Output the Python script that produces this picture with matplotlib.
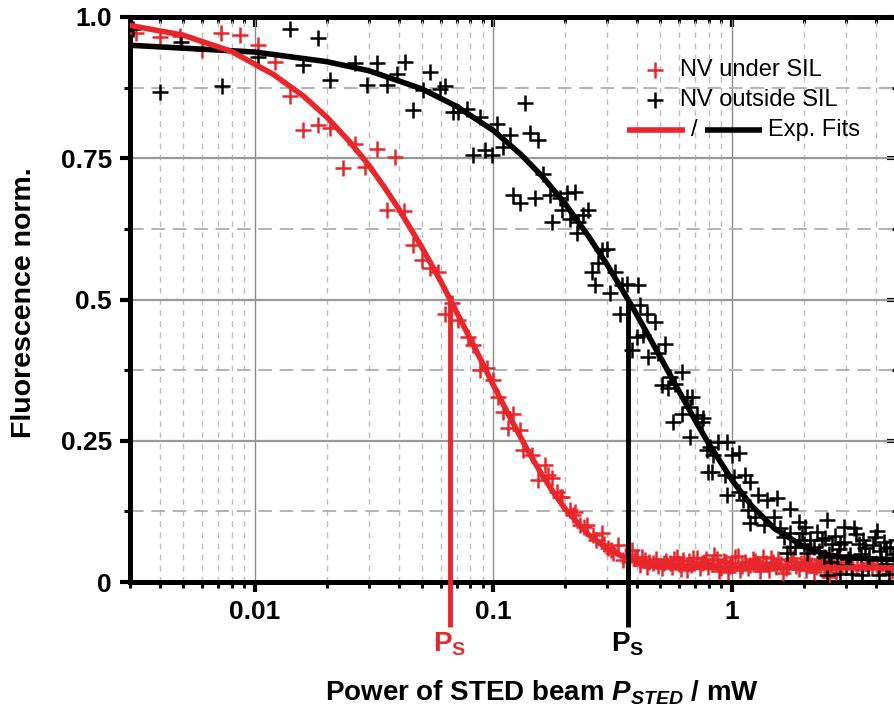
import matplotlib
matplotlib.use('Agg')
import matplotlib.pyplot as plt
from matplotlib.ticker import FixedLocator, NullFormatter, FixedFormatter, LogLocator

plt.rcParams['font.family'] = ['Liberation Sans', 'DejaVu Sans']
plt.rcParams['mathtext.fontset'] = 'custom'
plt.rcParams['mathtext.rm'] = 'Liberation Sans'
plt.rcParams['mathtext.bf'] = 'Liberation Sans:bold'
plt.rcParams['mathtext.it'] = 'Liberation Sans:italic'
try:
    plt.rcParams['mathtext.bfit'] = 'Liberation Sans:italic:bold'
except Exception:
    pass

# ---------------- data ----------------
red_x = [0.00319, 0.0040, 0.00485, 0.00598, 0.00725, 0.00865, 0.01032, 0.01213, 0.01402,
         0.01594, 0.01842, 0.02063, 0.02345, 0.02626, 0.02892, 0.03237, 0.03864, 0.03566,
         0.04214, 0.0461, 0.0500, 0.05418, 0.05869, 0.06678, 0.06259, 0.07118, 0.07837,
         0.08225, 0.08777, 0.09364, 0.0998, 0.1047, 0.1099, 0.1211, 0.1153, 0.1292, 0.1334,
         0.1446, 0.1644, 0.1541, 0.1754, 0.1841, 0.1932, 0.2093, 0.2197, 0.2306, 0.2459,
         0.2621, 0.2842, 0.3030, 0.3337, 0.3180, 0.350, 0.3797, 0.3985, 0.4316, 0.4677,
         0.5072, 0.5495, 0.5863, 0.6249, 0.6884, 0.6457, 0.7464, 0.7954,
         0.17, 0.19, 0.215, 0.24, 0.27, 0.29, 0.31,
         0.36, 0.37, 0.39, 0.41, 0.42, 0.44, 0.45, 0.48, 0.49, 0.52, 0.53, 0.56, 0.57,
         0.60, 0.61, 0.66, 0.67, 0.71, 0.73, 0.76, 0.78,
         0.82, 0.86, 0.90, 0.94, 0.98, 1.03, 1.08, 1.13, 1.19, 1.25, 1.31, 1.38, 1.45,
         1.52, 1.60, 1.68, 1.76, 1.85, 1.94, 2.04, 2.14, 2.25, 2.36, 2.48, 2.60, 2.73,
         2.87, 3.01, 3.16, 3.32, 3.49, 3.66, 3.85, 4.04, 4.24, 4.45, 4.68, 4.90,
         0.84, 0.88, 0.92, 0.96, 1.00, 1.06, 1.10, 1.16, 1.22, 1.28, 1.35, 1.42, 1.48,
         1.56, 1.64, 1.72, 1.80, 1.90, 2.00, 2.09, 2.20, 2.30, 2.42, 2.54, 2.66, 2.80]
red_y = [0.971, 0.965, 0.966, 0.941, 0.971, 0.968, 0.950, 0.920, 0.861,
         0.800, 0.808, 0.803, 0.732, 0.776, 0.735, 0.767, 0.752, 0.658,
         0.656, 0.596, 0.570, 0.555, 0.549, 0.493, 0.475, 0.463, 0.434,
         0.419, 0.375, 0.378, 0.357, 0.328, 0.301, 0.298, 0.272, 0.269, 0.2335,
         0.2247, 0.207, 0.180, 0.1834, 0.160, 0.151, 0.127, 0.124, 0.101, 0.101,
         0.083, 0.086, 0.060, 0.065, 0.051, 0.039, 0.057, 0.045, 0.039, 0.033,
         0.024, 0.033, 0.045, 0.039, 0.042, 0.021, 0.033, 0.027,
         0.19, 0.15, 0.118, 0.097, 0.075, 0.068, 0.056,
         0.047, 0.036, 0.042, 0.030, 0.044, 0.027, 0.036, 0.041, 0.029, 0.034, 0.038, 0.026, 0.040,
         0.031, 0.023, 0.037, 0.030, 0.043, 0.025, 0.035, 0.040,
         0.032, 0.041, 0.025, 0.036, 0.029, 0.044, 0.022, 0.035, 0.030, 0.038, 0.019, 0.033, 0.042,
         0.027, 0.031, 0.024, 0.037, 0.028, 0.034, 0.021, 0.030, 0.026, 0.039, 0.023, 0.032, 0.018,
         0.029, 0.035, 0.025, 0.030, 0.022, 0.033, 0.027, 0.024, 0.031, 0.026, 0.020, 0.028,
         0.047, 0.020, 0.038, 0.017, 0.033, 0.046, 0.028, 0.024, 0.041, 0.031, 0.045, 0.021, 0.036,
         0.040, 0.016, 0.029, 0.043, 0.023, 0.036, 0.041, 0.017, 0.034, 0.028, 0.008, 0.036, 0.024]

black_x = [0.0031, 0.00493, 0.0040, 0.00732, 0.01032, 0.01402, 0.01842, 0.01594, 0.02063,
           0.02626, 0.03237, 0.02939, 0.03566, 0.03927, 0.04256, 0.0461, 0.05077, 0.05418,
           0.05966, 0.06259, 0.06784, 0.07118, 0.07717, 0.08777, 0.1031, 0.1173, 0.1355,
           0.1422, 0.1541, 0.08225, 0.0921, 0.09828, 0.1099, 0.1617, 0.1211, 0.1292, 0.1493,
           0.1725, 0.19, 0.2027, 0.2197, 0.1754, 0.1932, 0.2093, 0.2268, 0.2379, 0.2497,
           0.2233, 0.2842, 0.2982, 0.2750, 0.258, 0.2665, 0.3231, 0.3079, 0.3447, 0.3618,
           0.4047, 0.3392, 0.4113, 0.4387, 0.4755, 0.3985, 0.4247, 0.3797, 0.4457, 0.4909,
           0.5237, 0.5495, 0.6153, 0.5072, 0.5406, 0.5768, 0.6457, 0.6776, 0.5674, 0.6153,
           0.6667, 0.7112, 0.6667, 0.7464, 0.7833, 0.7954, 0.7580, 0.8087, 0.8762, 0.950,
           0.8348, 0.997, 1.063, 0.822, 0.9346, 1.013, 1.134, 1.19, 0.950, 1.063, 1.115,
           1.289, 1.398, 1.539, 1.170, 1.249, 1.19, 1.353, 1.490, 1.751, 1.589, 1.641,
           1.751, 1.897, 1.960, 2.023, 1.837, 2.123, 2.265, 2.495, 2.377, 2.618, 2.929,
           3.226, 2.837, 3.385, 3.612, 3.977, 4.31, 4.598, 4.174, 2.057, 2.415, 2.748,
           3.125, 2.495, 2.837, 3.177, 3.498, 4.107, 4.522, 1.751, 1.696,
           2.2, 2.3, 2.45, 2.55, 2.7, 2.8, 2.95, 3.05, 3.3, 3.45, 3.55, 3.75, 3.9, 4.05,
           4.2, 4.4, 4.7, 4.85, 2.0, 1.9, 2.6, 3.0, 3.7, 4.4]
black_y = [0.978, 0.956, 0.867, 0.878, 0.929, 0.979, 0.962, 0.915, 0.888,
           0.918, 0.918, 0.879, 0.879, 0.900, 0.920, 0.835, 0.870, 0.903,
           0.872, 0.877, 0.832, 0.832, 0.838, 0.823, 0.811, 0.791, 0.847,
           0.794, 0.782, 0.755, 0.764, 0.755, 0.770, 0.723, 0.685, 0.670, 0.679,
           0.685, 0.679, 0.688, 0.690, 0.637, 0.658, 0.643, 0.637, 0.649, 0.658,
           0.617, 0.587, 0.590, 0.564, 0.549, 0.525, 0.549, 0.511, 0.525, 0.528,
           0.525, 0.475, 0.490, 0.475, 0.460, 0.434, 0.437, 0.410, 0.399, 0.405,
           0.422, 0.363, 0.372, 0.348, 0.343, 0.351, 0.328, 0.328, 0.284, 0.298,
           0.310, 0.295, 0.257, 0.284, 0.2335, 0.195, 0.290, 0.239, 0.248, 0.248,
           0.2247, 0.2247, 0.2277, 0.195, 0.189, 0.186, 0.189, 0.177, 0.154, 0.160, 0.145,
           0.154, 0.145, 0.148, 0.127, 0.1155, 0.104, 0.101, 0.1155, 0.130, 0.095, 0.080,
           0.086, 0.107, 0.086, 0.098, 0.062, 0.074, 0.089, 0.110, 0.074, 0.068, 0.098,
           0.095, 0.068, 0.068, 0.060, 0.080, 0.071, 0.062, 0.054, 0.051, 0.045, 0.045,
           0.048, 0.012, 0.015, 0.015, 0.012, 0.012, 0.015, 0.062, 0.051,
           0.062, 0.055, 0.078, 0.050, 0.082, 0.058, 0.070, 0.040, 0.085, 0.050, 0.075, 0.045, 0.065, 0.090,
           0.040, 0.060, 0.050, 0.075, 0.068, 0.075, 0.035, 0.030, 0.028, 0.032]

# exponential fit curves
red_fit_x = [0.003, 0.005, 0.008, 0.012, 0.016, 0.02, 0.025, 0.03, 0.035, 0.04, 0.05, 0.06,
             0.07, 0.08, 0.09, 0.1, 0.12, 0.14, 0.16, 0.18, 0.2, 0.25, 0.3, 0.35, 0.4, 0.5,
             0.7, 1.0, 2.0, 5.0]
red_fit_y = [0.985, 0.968, 0.939, 0.898, 0.860, 0.823, 0.779, 0.738, 0.698, 0.661, 0.593, 0.533,
             0.478, 0.430, 0.387, 0.348, 0.283, 0.231, 0.189, 0.156, 0.129, 0.084, 0.059, 0.044,
             0.036, 0.029, 0.026, 0.025, 0.025, 0.025]
black_fit_x = [0.003, 0.01, 0.02, 0.03, 0.05, 0.07, 0.1, 0.13, 0.16, 0.2, 0.25, 0.3, 0.366,
               0.4, 0.5, 0.6, 0.7, 0.8, 1.0, 1.2, 1.5, 2.0, 2.5, 3.0, 4.0, 5.0]
black_fit_y = [0.950, 0.938, 0.921, 0.905, 0.873, 0.842, 0.799, 0.757, 0.718, 0.669, 0.612,
               0.561, 0.500, 0.472, 0.398, 0.337, 0.286, 0.244, 0.180, 0.136, 0.095, 0.062,
               0.048, 0.043, 0.0405, 0.040]

ps_red = 0.0657
ps_black = 0.366

x_ticks = [0.01, 0.1, 1]
x_tick_labels = ['0.01', '0.1', '1']
y_ticks = [0, 0.25, 0.5, 0.75, 1.0]
y_tick_labels = ['0', '0.25', '0.5', '0.75', '1.0']

RED = '#e8262b'
BLACK = '#000000'

# ---------------- figure ----------------
fig = plt.figure(figsize=(8.95, 7.11), dpi=100)
ax = fig.add_axes([130 / 895, 129 / 711, 769 / 895, 565 / 711])
ax.set_xscale('log')
ax.set_xlim(0.003, 5)
ax.set_ylim(0, 1)

ax.set_axisbelow(True)
ax.xaxis.set_major_locator(FixedLocator(x_ticks))
ax.xaxis.set_major_formatter(FixedFormatter(x_tick_labels))
ax.xaxis.set_minor_locator(LogLocator(base=10, subs=[2, 3, 4, 5, 6, 7, 8, 9], numticks=20))
ax.xaxis.set_minor_formatter(NullFormatter())
ax.yaxis.set_major_locator(FixedLocator(y_ticks))
ax.yaxis.set_major_formatter(FixedFormatter(y_tick_labels))
ax.yaxis.set_minor_locator(FixedLocator([0.125, 0.375, 0.625, 0.875]))

ax.grid(which='major', axis='x', color='#8a8a8a', lw=1.0, ls='-')
ax.grid(which='major', axis='y', color='#999999', lw=1.6, ls='-')
ax.grid(which='minor', axis='x', color='#bdbdbd', lw=1.0, ls=(0, (4, 4)))
ax.grid(which='minor', axis='y', color='#b3b3b3', lw=1.4, ls=(0, (7, 4)))

for s in ax.spines.values():
    s.set_linewidth(3.6)
ax.tick_params(which='major', direction='out', length=7, width=3, labelsize=19, pad=6,
               top=False, right=False)
ax.tick_params(which='minor', direction='out', length=4.5, width=2.2, top=False, right=False)
for lab in ax.get_xticklabels() + ax.get_yticklabels():
    lab.set_fontweight('bold')

secx = ax.secondary_xaxis('top')
secx.xaxis.set_major_locator(FixedLocator(x_ticks))
secx.xaxis.set_minor_locator(LogLocator(base=10, subs=[2, 3, 4, 5, 6, 7, 8, 9], numticks=20))
secx.xaxis.set_major_formatter(NullFormatter())
secx.xaxis.set_minor_formatter(NullFormatter())
secx.tick_params(which='major', direction='in', length=7, width=3)
secx.tick_params(which='minor', direction='in', length=4.5, width=2.2)
secx.spines['top'].set_linewidth(3.6)

secy = ax.secondary_yaxis('right')
secy.yaxis.set_major_locator(FixedLocator(y_ticks))
secy.yaxis.set_minor_locator(FixedLocator([0.125, 0.375, 0.625, 0.875]))
secy.yaxis.set_major_formatter(NullFormatter())
secy.yaxis.set_minor_formatter(NullFormatter())
secy.tick_params(which='major', direction='in', length=9, width=3)
secy.tick_params(which='minor', direction='in', length=5, width=2.2)
secy.spines['right'].set_linewidth(3.6)

MS = 11
MEW = 1.8
ax.plot(red_x, red_y, ls='none', marker='+', ms=MS, mew=MEW, color=RED, zorder=3)
ax.plot(black_x, black_y, ls='none', marker='+', ms=MS, mew=MEW, color=BLACK, zorder=3.5)
ax.plot(black_fit_x, black_fit_y, color=BLACK, lw=4, zorder=4)
ax.plot(red_fit_x, red_fit_y, color=RED, lw=4, zorder=4.5)

ax.plot([ps_red, ps_red], [0.5, -0.08], color=RED, lw=3.5, clip_on=False, zorder=5,
        solid_capstyle='butt')
ax.plot([ps_black, ps_black], [0.5, -0.08], color=BLACK, lw=3.5, clip_on=False, zorder=5,
        solid_capstyle='butt')
ax.text(ps_red, -0.11, r'$\mathbf{P}_{\mathbf{S}}$', color=RED, fontsize=20,
        ha='center', va='center', clip_on=False)
ax.text(ps_black, -0.11, r'$\mathbf{P}_{\mathbf{S}}$', color=BLACK, fontsize=20,
        ha='center', va='center', clip_on=False)

ax.set_ylabel('Fluorescence norm.', fontsize=20.5, fontweight='bold')
ax.yaxis.set_label_coords(-0.121, 0.494)
fig.text(542 / 895, (711 - 693) / 711,
         r'Power of STED beam $\mathbfit{P}_{\mathbfit{STED}}$ / mW',
         fontsize=20, fontweight='bold', ha='center', va='center')

# legend (drawn by hand)
T = ax.transAxes
ax.plot([0.6827], [0.906], ls='none', marker='+', ms=MS, mew=MEW, color=RED, transform=T,
        clip_on=False, zorder=6)
ax.text(0.7152, 0.906, 'NV under SIL', transform=T, fontsize=17, va='center', ha='left')
ax.plot([0.6827], [0.853], ls='none', marker='+', ms=MS, mew=MEW, color=BLACK, transform=T,
        clip_on=False, zorder=6)
ax.text(0.7152, 0.853, 'NV outside SIL', transform=T, fontsize=17, va='center', ha='left')
ax.plot([0.6463, 0.7217], [0.800, 0.800], color=RED, lw=4, transform=T, zorder=6,
        solid_capstyle='butt')
ax.text(0.7335, 0.800, '/', transform=T, fontsize=17, va='center', ha='center')
ax.plot([0.7477, 0.8218], [0.800, 0.800], color=BLACK, lw=4, transform=T, zorder=6,
        solid_capstyle='butt')
ax.text(0.8296, 0.800, 'Exp. Fits', transform=T, fontsize=17, va='center', ha='left')

fig.savefig('out.png', dpi=100)
